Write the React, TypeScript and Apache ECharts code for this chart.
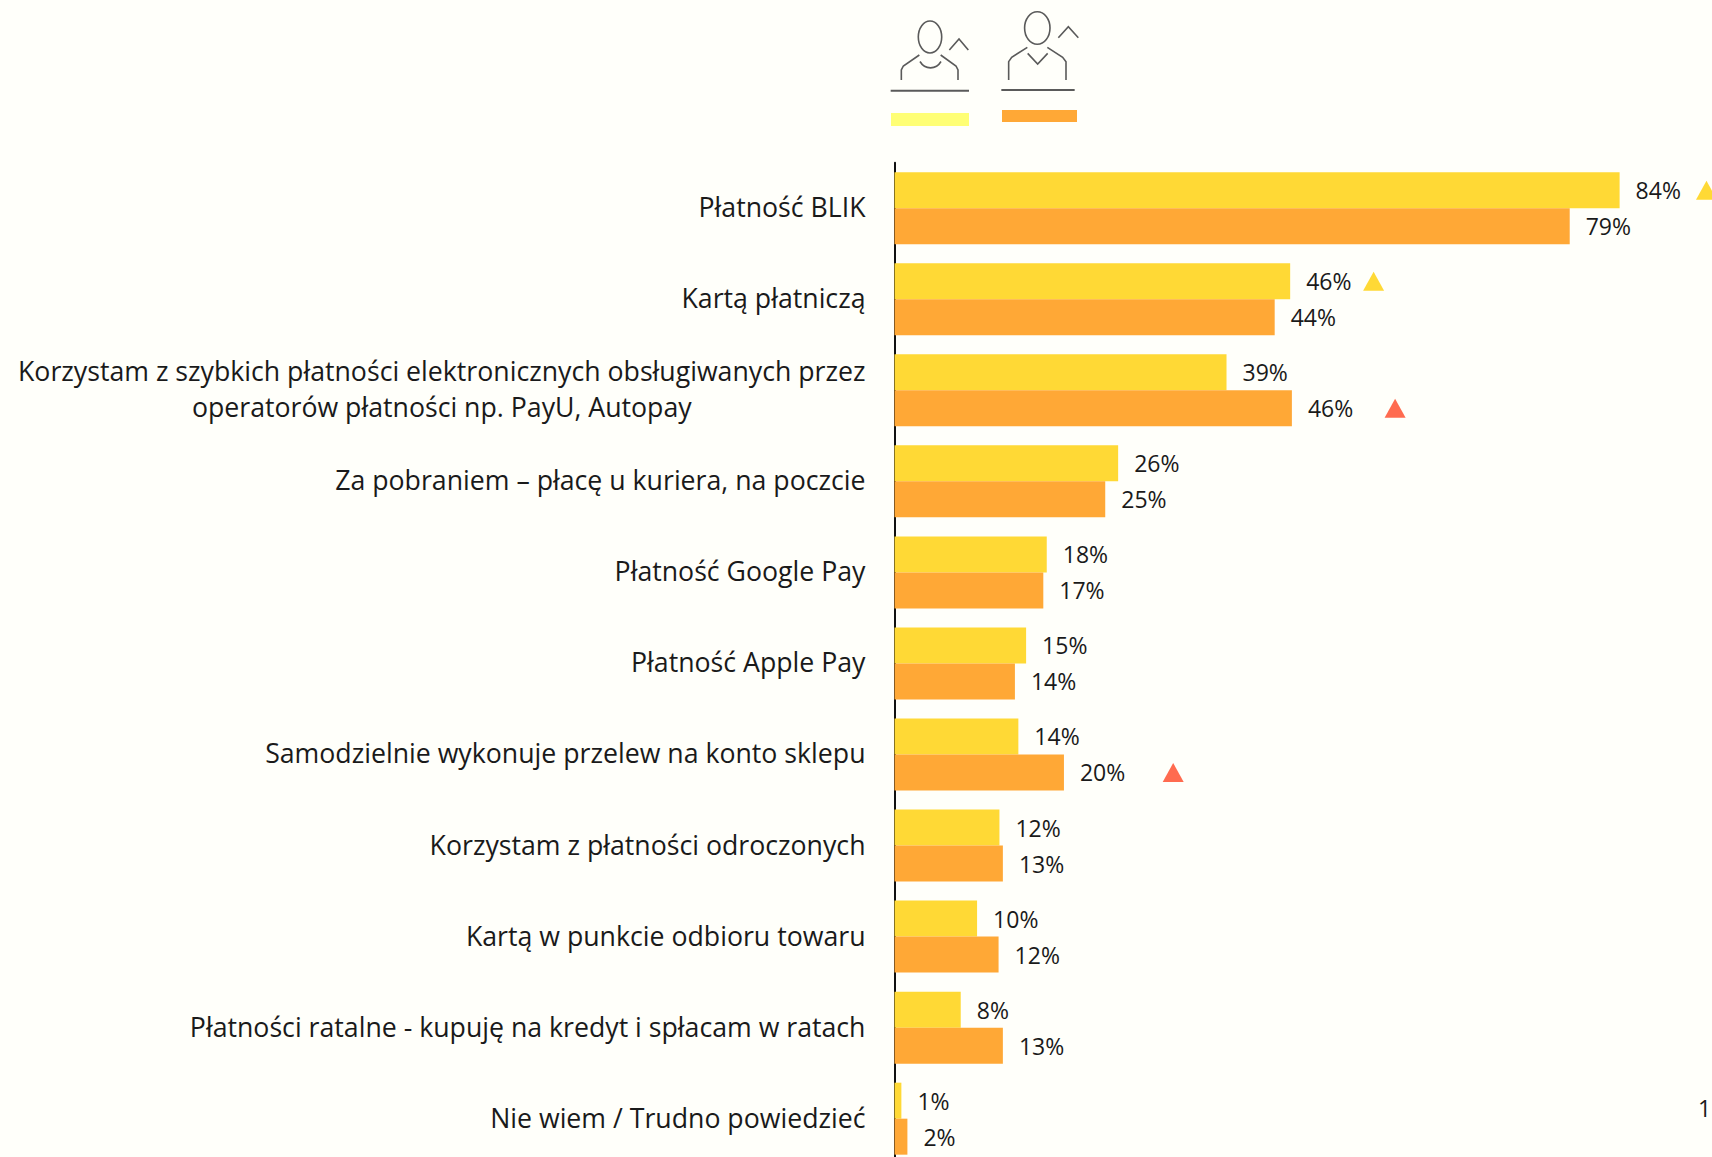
import React, { useEffect, useRef } from "react";
import * as echarts from "echarts";

const categories = [
  "Płatność BLIK",
  "Kartą płatniczą",
  "Korzystam z szybkich płatności elektronicznych obsługiwanych przez\noperatorów płatności np. PayU, Autopay",
  "Za pobraniem – płacę u kuriera, na poczcie",
  "Płatność Google Pay",
  "Płatność Apple Pay",
  "Samodzielnie wykonuje przelew na konto sklepu",
  "Korzystam z płatności odroczonych",
  "Kartą w punkcie odbioru towaru",
  "Płatności ratalne - kupuję na kredyt i spłacam w ratach",
  "Nie wiem / Trudno powiedzieć",
];
const womenValues = [84.3, 46.0, 38.6, 26.0, 17.7, 15.3, 14.4, 12.2, 9.6, 7.7, 0.8];
const menValues = [78.5, 44.2, 46.2, 24.5, 17.3, 14.0, 19.7, 12.6, 12.1, 12.6, 1.5];
// Trend triangles: [position on the value axis, category index]
const upperMarkers = [[94.4, 0], [55.7, 1]];
const lowerMarkers = [[58.2, 2], [32.4, 6]];

const FONT = "'Open Sans', sans-serif";
const YELLOW = "#FFD935";
const ORANGE = "#FFA836";
const RED = "#FF6B4F";
const ICON = "#5A5A5A";

const pts = (a: number[][]) => a.map(([x, y]) => [860 + x / 3, y / 3]);
const poly = (a: number[][], lineWidth = 1.6) => ({
  type: "polyline",
  shape: { points: pts(a) },
  style: { stroke: ICON, lineWidth, fill: "none" },
  silent: true,
});

export default function App() {
  const ref = useRef<HTMLDivElement>(null);
  useEffect(() => {
    const chart = echarts.init(ref.current!, undefined, { renderer: "svg" });
    const labelStyle = {
      show: true,
      position: "right" as const,
      distance: 16,
      fontFamily: FONT,
      fontSize: 23,
      color: "#1A1A1A",
      formatter: (p: any) => Math.round(p.value) + "%",
    };
    chart.setOption({
      animation: false,
      backgroundColor: "#FFFFFA",
      grid: { left: 894.5, top: 162.7, width: 818, height: 1001.5, outerBoundsMode: "none" },
      xAxis: { type: "value", min: 0, max: 95.1, show: false },
      yAxis: {
        type: "category",
        inverse: true,
        data: categories,
        axisTick: { show: false },
        axisLine: { show: true, lineStyle: { color: "#111", width: 2 } },
        axisLabel: {
          margin: 29,
          fontFamily: FONT,
          fontSize: 26.7,
          lineHeight: 36,
          color: "#1A1A1A",
          align: "right",
          interval: 0,
          padding: [0, 0, 3, 0],
          formatter: (v: string) =>
            v.includes("\n") ? v.split("\n").map((l) => `{c|${l}}`).join("\n") : v,
          rich: {
            c: { align: "center", fontFamily: FONT, fontSize: 26.7, lineHeight: 36, color: "#1A1A1A" },
          },
        },
      },
      series: [
        { name: "Kobiety", type: "bar", data: womenValues, barWidth: 36, barGap: 0, itemStyle: { color: YELLOW }, label: labelStyle },
        { name: "Mężczyźni", type: "bar", data: menValues, barWidth: 36, barGap: 0, itemStyle: { color: ORANGE }, label: labelStyle },
        {
          type: "scatter",
          symbol: "triangle",
          symbolSize: [21, 19],
          symbolOffset: [0, -18],
          itemStyle: { color: YELLOW, opacity: 1 },
          data: upperMarkers,
          silent: true,
          clip: false,
        },
        {
          type: "scatter",
          symbol: "triangle",
          symbolSize: [21, 19],
          symbolOffset: [0, 18],
          itemStyle: { color: RED, opacity: 1 },
          data: lowerMarkers,
          silent: true,
          clip: false,
        },
      ],
      graphic: [
        { type: "ellipse", shape: { cx: 930, cy: 37, rx: 11.7, ry: 16 }, style: { stroke: ICON, lineWidth: 1.6, fill: "none" }, silent: true },
        poly([[124, 240], [124, 210], [130, 198], [178, 165]]),
        poly([[294, 240], [294, 210], [288, 198], [242, 165]]),
        { type: "bezierCurve", shape: { x1: 920, y1: 61.5, x2: 941, y2: 61.5, cpx1: 925, cpy1: 70, cpx2: 936, cpy2: 70 }, style: { stroke: ICON, lineWidth: 1.6, fill: "none" }, silent: true },
        poly([[268, 150], [297, 117], [325, 150]]),
        poly([[92, 272], [327, 272]], 2),
        { type: "rect", shape: { x: 891, y: 113, width: 78, height: 13 }, style: { fill: "#FFFF75" }, silent: true },
        { type: "ellipse", shape: { cx: 1037.3, cy: 28, rx: 12.7, ry: 16.3 }, style: { stroke: ICON, lineWidth: 1.6, fill: "none" }, silent: true },
        poly([[446, 240], [446, 185], [455, 172], [502, 142]]),
        poly([[618, 240], [618, 185], [608, 172], [562, 142]]),
        poly([[503, 160], [533, 192], [563, 160]]),
        poly([[595, 113], [625, 80], [655, 113]]),
        poly([[424, 270], [644, 270]], 2),
        { type: "rect", shape: { x: 1002, y: 110, width: 75, height: 12 }, style: { fill: ORANGE }, silent: true },
        { type: "text", style: { x: 1698, y: 1108, text: "1", fontFamily: FONT, fontSize: 23, fill: "#1A1A1A", verticalAlign: "middle" }, silent: true },
      ],
    });
    return () => chart.dispose();
  }, []);
  return <div ref={ref} style={{ position: "absolute", left: 0, top: 0, width: 1712, height: 1157 }} />;
}
